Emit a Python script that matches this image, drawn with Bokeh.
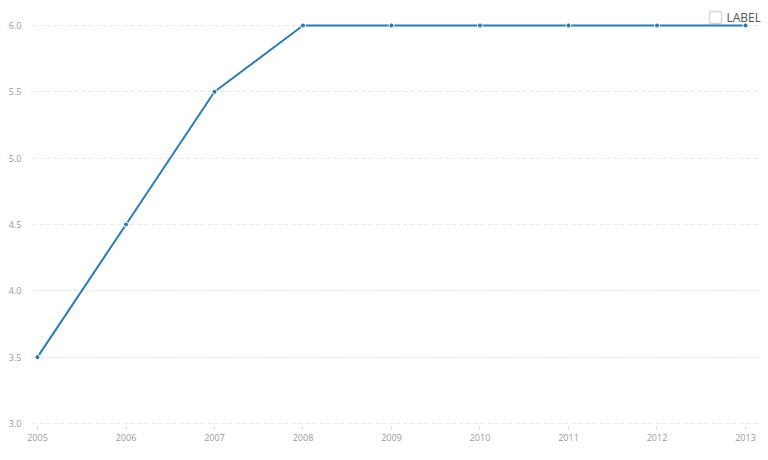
from bokeh.plotting import figure
from bokeh.models import ColumnDataSource, FixedTicker, NumeralTickFormatter, Range1d, BoxAnnotation, Label
from bokeh.embed import file_html
from bokeh.resources import INLINE

years = [2005, 2006, 2007, 2008, 2009, 2010, 2011, 2012, 2013]
values = [3.5, 4.5, 5.5, 6.0, 6.0, 6.0, 6.0, 6.0, 6.0]
y_ticks = [3.0, 3.5, 4.0, 4.5, 5.0, 5.5, 6.0]
series_label = "LABEL"

src = ColumnDataSource(data=dict(x=years, y=values))

p = figure(frame_width=728, frame_height=418, output_backend="svg", toolbar_location=None,
           x_range=Range1d(2004.9435, 2013.1695), y_range=Range1d(2.977, 6.128),
           min_border_left=32, min_border_right=6, min_border_top=8, min_border_bottom=22)
p.outline_line_color = None
p.background_fill_color = "white"
p.border_fill_color = "white"

color = "#2b7bb4"
p.line("x", "y", source=src, line_color=color, line_width=2)
p.scatter("x", "y", source=src, size=5, fill_color=color, line_color="white", line_width=1)

for ax in (p.xaxis[0], p.yaxis[0]):
    ax.axis_line_color = None
    ax.major_label_text_font = "Open Sans"
    ax.major_label_text_font_size = "9px"
    ax.major_label_text_color = "#999999"
    ax.minor_tick_line_color = None

p.xaxis.ticker = FixedTicker(ticks=years)
p.xaxis.formatter = NumeralTickFormatter(format="0")
p.xaxis.major_tick_line_color = "#dddddd"
p.xaxis.major_tick_in = 0
p.xaxis.major_tick_out = 3
p.xaxis.major_label_standoff = 4

p.yaxis.ticker = FixedTicker(ticks=y_ticks)
p.yaxis.formatter = NumeralTickFormatter(format="0.0")
p.yaxis.major_tick_line_color = None
p.yaxis.major_label_standoff = 5

p.xgrid.grid_line_color = None
p.ygrid.grid_line_color = "#e6e6e6"
p.ygrid.grid_line_dash = "4 3"
p.ygrid.grid_line_width = 1

box = BoxAnnotation(left=677, right=689, top=415, bottom=403,
                    left_units="screen", right_units="screen", top_units="screen", bottom_units="screen",
                    fill_color="white", fill_alpha=1, line_color="#6f6f6f", line_width=1.3, border_radius=2)
p.add_layout(box)
lab = Label(x=694, y=409, x_units="screen", y_units="screen", text=series_label,
            text_font="Open Sans", text_font_size="12px", text_color="#555555", text_baseline="middle")
p.add_layout(lab)

open("out.html", "w").write(file_html(p, INLINE))
